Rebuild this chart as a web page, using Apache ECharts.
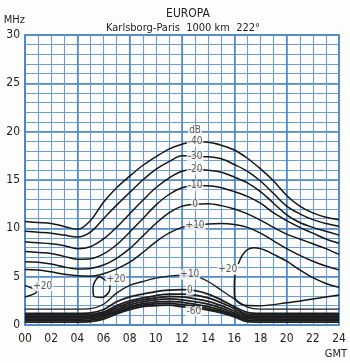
<!DOCTYPE html>
<html><head><meta charset="utf-8">
<script src="https://cdn.jsdelivr.net/npm/echarts@6/dist/echarts.min.js"></script>
<style>html,body{margin:0;padding:0;background:#fdfdfb}#c{width:350px;height:363px}</style>
</head><body><div id="c"></div>
<script>
const hours = [0,1,2,3,4,5,6,7,8,9,10,11,12,13,14,15,16,17,18,19,20,21,22,23,24];
const xTickLabels = ['00','02','04','06','08','10','12','14','16','18','20','22','24'];
const yTickLabels = ['0','5','10','15','20','25','30'];

// upper group (dB)
const upM40 = [10.7,10.6,10.5,10.2,9.9,10.8,12.7,14.2,15.4,16.5,17.4,18.2,18.7,18.95,18.9,18.6,18.1,17.25,16.15,14.9,13.4,12.3,11.6,11.15,10.9];
const upM30 = [9.7,9.6,9.5,9.3,9.1,9.6,11.0,12.4,13.7,15.0,16.1,16.9,17.5,17.45,17.4,17.2,16.6,15.9,14.9,13.6,12.3,11.5,10.9,10.5,10.2];
const upM20 = [8.6,8.5,8.4,8.2,7.9,8.1,8.9,10.1,11.5,12.9,14.2,15.2,15.9,16.1,16.0,15.8,15.3,14.7,13.8,12.6,11.4,10.6,10.1,9.7,9.3];
const upM10 = [7.6,7.5,7.4,7.1,6.8,6.85,7.35,8.3,9.6,11.0,12.4,13.5,14.2,14.4,14.4,14.2,13.8,13.3,12.6,11.6,10.8,10.1,9.5,8.9,8.45];
const up0   = [6.55,6.5,6.3,6.0,5.8,5.85,6.2,6.9,7.9,9.2,10.5,11.6,12.3,12.5,12.55,12.35,12.0,11.5,10.85,10.1,9.4,8.9,8.4,7.9,7.3];
const upP10 = [5.75,5.7,5.5,5.25,5.1,5.05,5.3,5.8,6.5,7.5,8.6,9.5,10.1,10.3,10.45,10.5,10.4,10.1,9.5,8.7,7.9,7.2,6.6,6.1,5.7];

// lower group (dB)
const loP10 = [1.65,1.65,1.65,1.65,1.65,1.7,2.15,3.3,4.1,4.5,4.85,5.05,5.15,5.05,4.5,3.6,2.7,1.85,1.65,1.65,1.65,1.65,1.65,1.65,1.65];
const lo0   = [1.2,1.2,1.2,1.2,1.2,1.25,1.6,2.4,2.9,3.2,3.45,3.6,3.65,3.55,3.2,2.6,1.9,1.3,1.2,1.2,1.2,1.2,1.2,1.2,1.2];
const loM10 = [1.05,1.05,1.05,1.05,1.05,1.1,1.35,2.0,2.5,2.8,3.05,3.2,3.2,3.1,2.8,2.3,1.7,1.1,1.05,1.05,1.05,1.05,1.05,1.05,1.05];
const loM20 = [0.9,0.9,0.9,0.9,0.9,0.95,1.2,1.8,2.3,2.6,2.8,2.95,2.9,2.7,2.45,2.0,1.45,0.95,0.9,0.9,0.9,0.9,0.9,0.9,0.9];
const loM30 = [0.75,0.75,0.75,0.75,0.75,0.8,1.05,1.6,2.1,2.4,2.6,2.7,2.6,2.4,2.15,1.75,1.25,0.8,0.75,0.75,0.75,0.75,0.75,0.75,0.75];
const loM40 = [0.6,0.6,0.6,0.6,0.6,0.65,0.9,1.45,1.9,2.2,2.4,2.45,2.35,2.15,1.9,1.55,1.1,0.65,0.6,0.6,0.6,0.6,0.6,0.6,0.6];
const loM50 = [0.45,0.45,0.45,0.45,0.45,0.5,0.75,1.3,1.75,2.05,2.2,2.25,2.1,1.95,1.7,1.4,0.95,0.5,0.45,0.45,0.45,0.45,0.45,0.45,0.45];
const loM60 = [0.3,0.3,0.3,0.3,0.3,0.35,0.6,1.15,1.6,1.9,2.0,2.05,1.9,1.75,1.55,1.25,0.85,0.35,0.3,0.3,0.3,0.3,0.3,0.3,0.3];

// small +20 dB contours ([hour, MHz])
const p20Left  = [[0,4.1],[0.9,3.45],[0,2.9]];
const p20Box   = [[6.25,4.5],[5.7,5.0],[5.2,3.9],[5.25,3.0],[5.9,2.85],[6.45,3.5],[6.5,4.1]];
const p20RightLow  = [[16.05,5.3],[16.0,4.2],[16.0,3.2],[16.2,2.45],[16.8,2.05],[18,2.0],[20,2.3],[22,2.7],[24,3.1]];
const p20RightHigh = [[16.3,6.3],[16.6,7.2],[17.0,7.8],[17.5,8.0],[18.0,7.9],[18.5,7.65],[19,7.3],[20,6.6],[21,5.7],[22,4.9],[23,4.3],[24,3.9]];

// curve labels [hour, MHz, text]
const curveLabels = [
  [13.0,20.1,'dB'],[13.0,18.95,'-40'],[13.0,17.45,'-30'],[13.0,16.1,'-20'],[13.0,14.4,'-10'],[13.0,12.5,'0'],[13.0,10.3,'+10'],
  [12.6,5.2,'+10'],[12.6,3.6,'0'],[12.9,1.45,'-60'],
  [1.35,4.0,'+20'],[6.95,4.75,'+20'],[15.5,5.7,'+20']
];

const upperCurves = [upM40,upM30,upM20,upM10,up0,upP10];
const lowerCurves = [loP10,lo0,loM10,loM20,loM30,loM40,loM50,loM60];
const toPts = v => hours.map((h,i)=>[h,v[i]]);

const thin = '#6e9dd6';
const thick = '#4d86c9';
const font = 'DejaVu Sans Condensed';
const series = [];
upperCurves.forEach(v=>series.push({type:'line',data:toPts(v),showSymbol:false,symbol:'none',smooth:0.35,
  lineStyle:{color:'#161616',width:1.5},z:3,silent:true}));
lowerCurves.forEach((v,i)=>series.push({type:'line',data:toPts(v),showSymbol:false,symbol:'none',smooth:0.35,
  lineStyle:{color:'#1c1c1c',width:i<1?1.3:1.8},z:3,silent:true}));
[p20Left,p20Box,p20RightLow,p20RightHigh].forEach(d=>series.push({type:'line',data:d,showSymbol:false,symbol:'none',smooth:0.3,
  lineStyle:{color:'#161616',width:1.5},z:3,silent:true}));
series.push({type:'scatter',data:curveLabels,symbol:'rect',symbolSize:1,itemStyle:{color:'rgba(0,0,0,0)'},z:5,silent:true,
  label:{show:true,position:'inside',formatter:p=>p.data[2],fontFamily:font,fontSize:10,color:'#333',
    backgroundColor:'#fdfdfb',padding:[0,1]}});

const chart = echarts.init(document.getElementById('c'));
chart.setOption({
  animation:false,
  backgroundColor:'#fdfdfb',
  title:[
    {text:'EUROPA',left:183,top:3,textAlign:'center',textStyle:{fontFamily:font,fontSize:12,fontWeight:'normal',color:'#222'}},
    {text:'Karlsborg-Paris  1000 km  222°',left:178,top:18,textAlign:'center',textStyle:{fontFamily:font,fontSize:11,fontWeight:'normal',color:'#222'}}
  ],
  grid:{left:25,right:6,top:35,bottom:38,show:true,borderColor:thick,borderWidth:1.5,backgroundColor:'transparent'},
  xAxis:[
    {type:'value',min:0,max:24,interval:1,name:'GMT',nameLocation:'end',nameGap:8,
      nameTextStyle:{fontFamily:font,fontSize:11,color:'#222',align:'right',verticalAlign:'top',padding:[24,0,0,0]},
      axisLine:{show:true,lineStyle:{color:thick,width:1.5}},axisTick:{show:false},
      axisLabel:{margin:8,fontFamily:font,fontSize:12,color:'#222',
        formatter:v=>(v%2===0?xTickLabels[v/2]:'')},
      splitLine:{show:true,lineStyle:{color:thin,width:1.1}}},
    {type:'value',min:0,max:24,interval:4,position:'bottom',axisLine:{show:false},axisTick:{show:false},axisLabel:{show:false},
      splitLine:{show:true,lineStyle:{color:thick,width:1.5}}}
  ],
  yAxis:[
    {type:'value',min:0,max:30,interval:1,name:'MHz',nameLocation:'end',nameGap:9,
      nameTextStyle:{fontFamily:font,fontSize:11,color:'#222',align:'right'},
      axisLine:{show:true,lineStyle:{color:thick,width:1.5}},axisTick:{show:false},
      axisLabel:{margin:5,fontFamily:font,fontSize:12,color:'#222',
        formatter:v=>(v%5===0?yTickLabels[v/5]:'')},
      splitLine:{show:true,lineStyle:{color:thin,width:1.1}}},
    {type:'value',min:0,max:30,interval:5,position:'left',axisLine:{show:false},axisTick:{show:false},axisLabel:{show:false},
      splitLine:{show:true,lineStyle:{color:thick,width:1.5}}}
  ],
  series:series
});
</script></body></html>
